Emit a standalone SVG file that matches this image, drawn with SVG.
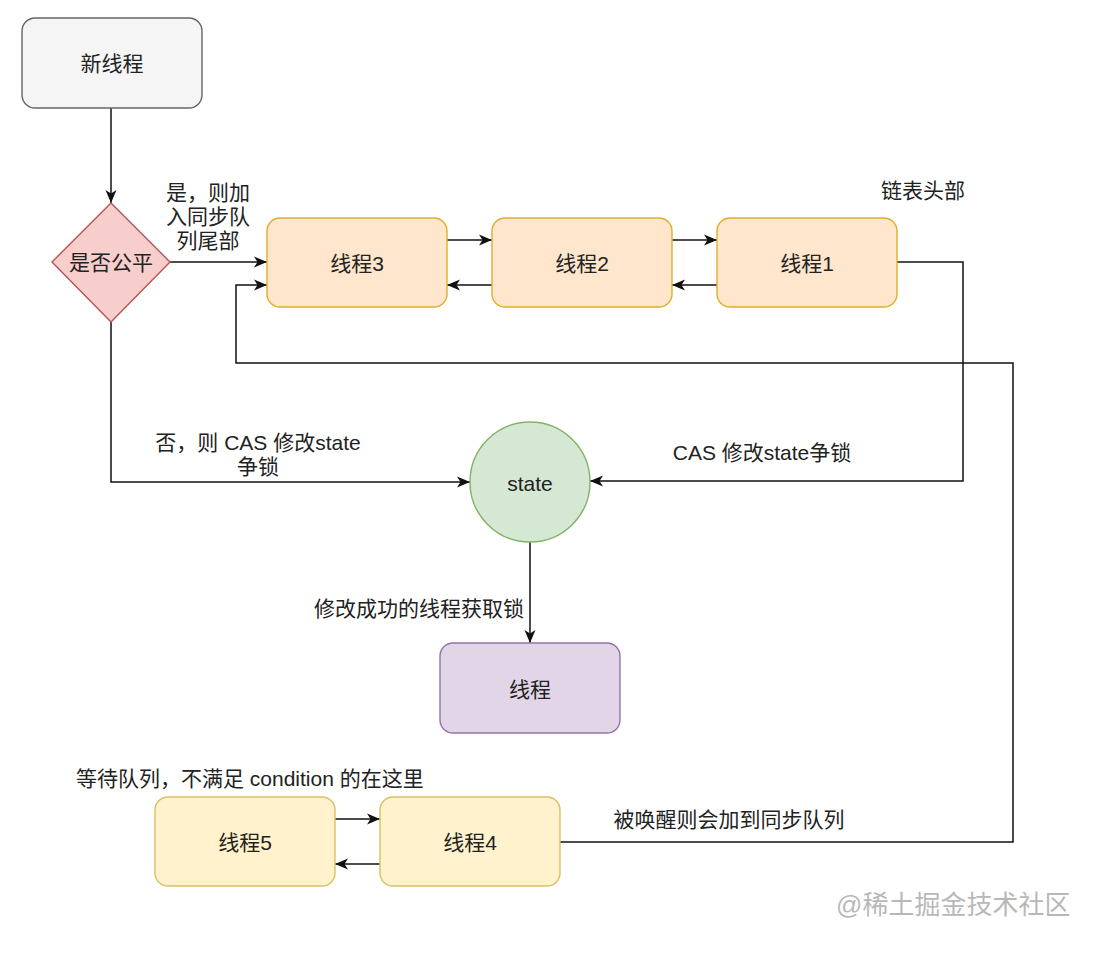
<svg xmlns="http://www.w3.org/2000/svg" width="1110" height="964" viewBox="0 0 1110 964">
<style>
text{font-family:"Liberation Sans","Noto Sans CJK SC",sans-serif;font-size:21px;fill:#222;}
.c{text-anchor:middle;dominant-baseline:central;}
.l{dominant-baseline:central;}
.e{fill:none;stroke:#111;stroke-width:1.5;marker-end:url(#ah);}
.n{stroke-width:1.4;}
.org{fill:#ffe6cc;stroke:#dfae2a;}
.yel{fill:#fff2cc;stroke:#d9c066;}
</style>
<defs>
<marker id="ah" markerUnits="userSpaceOnUse" markerWidth="14" markerHeight="14" viewBox="0 0 14 14" refX="13" refY="7" orient="auto">
<path d="M0,1.5 L13,7 L0,12.5 L3.5,7 Z" fill="#111"/>
</marker>
</defs>
<rect width="1110" height="964" fill="#fff"/>
<g id="connectors">
<path class="e" d="M111,108 V203"/>
<path class="e" d="M170,262 H267"/>
<path class="e" d="M447,240 H492"/>
<path class="e" d="M492,285 H447"/>
<path class="e" d="M672,240 H717"/>
<path class="e" d="M717,285 H672"/>
<path class="e" d="M897,262 H963 V481 H590"/>
<path class="e" d="M111,322 V482 H470"/>
<path class="e" d="M530,542 V643"/>
<path class="e" d="M335,819 H380"/>
<path class="e" d="M380,864 H335"/>
<path class="e" d="M560,842 H1013 V363 H236 V285 H267"/>
</g>
<g id="edge-labels">
<text class="c" x="208" y="192">是，则加</text>
<text class="c" x="208" y="216">入同步队</text>
<text class="c" x="208" y="240">列尾部</text>
<text class="c" x="258" y="442">否，则 CAS 修改state</text>
<text class="c" x="258" y="466">争锁</text>
<text class="c" x="762" y="452">CAS 修改state争锁</text>
<text class="c" x="419" y="608">修改成功的线程获取锁</text>
<text class="c" x="729" y="819">被唤醒则会加到同步队列</text>
</g>
<g id="new-thread">
<rect class="n" x="22" y="18" width="180" height="90" rx="13" fill="#f5f5f5" stroke="#666"/>
<text class="c" x="112" y="63">新线程</text>
</g>
<g id="fair">
<path class="n" d="M111,203 L170,262 L111,322 L52,262 Z" fill="#f8cecc" stroke="#b85450"/>
<text class="c" x="111" y="262">是否公平</text>
</g>
<g id="thread3">
<rect class="n org" x="267" y="218" width="180" height="89" rx="13"/>
<text class="c" x="357" y="263">线程3</text>
</g>
<g id="thread2">
<rect class="n org" x="492" y="218" width="180" height="89" rx="13"/>
<text class="c" x="582" y="263">线程2</text>
</g>
<g id="thread1">
<rect class="n org" x="717" y="218" width="180" height="89" rx="13"/>
<text class="c" x="807" y="263">线程1</text>
</g>
<g id="head-label">
<text class="c" x="923" y="190">链表头部</text>
</g>
<g id="state">
<circle class="n" cx="530" cy="482" r="60" fill="#d5e8d4" stroke="#82b366"/>
<text class="c" x="530" y="483">state</text>
</g>
<g id="thread">
<rect class="n" x="440" y="643" width="180" height="90" rx="13" fill="#e1d5e7" stroke="#9673a6"/>
<text class="c" x="530" y="689">线程</text>
</g>
<g id="wait-label">
<text class="l" x="76" y="778">等待队列，不满足 condition 的在这里</text>
</g>
<g id="thread5">
<rect class="n yel" x="155" y="797" width="180" height="89" rx="13"/>
<text class="c" x="245" y="842">线程5</text>
</g>
<g id="thread4">
<rect class="n yel" x="380" y="797" width="180" height="89" rx="13"/>
<text class="c" x="470" y="842">线程4</text>
</g>
<g id="watermark">
<text class="l" x="836" y="905" style="font-size:26px;fill:#b8b8b8">@稀土掘金技术社区</text>
</g>
</svg>
